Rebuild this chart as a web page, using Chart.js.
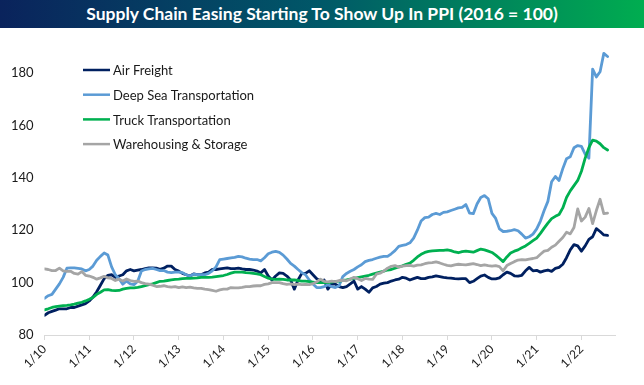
<!DOCTYPE html>
<html>
<head>
<meta charset="utf-8">
<script src="https://cdn.jsdelivr.net/npm/chart.js@4.4.0/dist/chart.umd.min.js"></script>
<style>
  body { margin: 0; background: #fff; }
  #title {
    position: absolute; left: 0; top: 0; width: 644px; height: 28px;
    background: linear-gradient(90deg, #0a235c 0%, #005868 50%, #00ad50 100%);
    color: #fff; font-family: Lato, sans-serif; font-weight: bold; font-size: 18px;
    line-height: 28px; text-align: center; white-space: nowrap;
  }
  #wrap { position: absolute; left: 0; top: 28px; width: 644px; height: 357px; }
</style>
</head>
<body>
<div id="title">Supply Chain Easing Starting To Show Up In PPI (2016 = 100)</div>
<div id="wrap"><canvas id="ppiChart"></canvas></div>
<script>
// monthly, Jan 2010 .. Aug 2022
const tickLabels = ["1/10", "1/11", "1/12", "1/13", "1/14", "1/15", "1/16",
  "1/17", "1/18", "1/19", "1/20", "1/21", "1/22"];

const seriesNames = ["Air Freight", "Deep Sea Transportation",
  "Truck Transportation", "Warehousing & Storage"];

const airFreight = [
  87.5, 88.5, 89, 89.5, 90, 90, 90, 90.5, 90.5, 91, 91.5, 92,
  93, 94.5, 96.5, 99, 101.5, 102.8, 103, 102, 102.5, 103, 104.5, 105,
  104.5, 104.8, 105, 105.3, 105.6, 105.6, 105.5, 105.1, 105.5, 106.3, 106.3, 105,
  104.4, 103.5, 103, 102.5, 103.3, 103, 103, 103.7, 104, 105, 105, 105.2,
  105.4, 105.6, 105.3, 105.3, 105.5, 105.2, 105, 105, 104.8, 104.4, 103.7, 105,
  102.5, 101, 102.5, 103.7, 103.5, 102.5, 101, 97.5, 101, 103.5, 103.5, 104.5,
  103, 101.5, 100.6, 101, 97.5, 99.5, 99.4, 98.5, 98.1, 98.5, 99.5, 100.6,
  97.5, 98.5, 97.5, 96.3, 98, 98.5, 99.4, 99.8, 100, 100.6, 101, 101.3,
  102, 101.7, 101, 101.5, 102, 101.5, 101.5, 102, 102.2, 102.6, 102.3, 102,
  101.8, 101.7, 101.5, 101.4, 101.5, 101.5, 100, 100.5, 101.5, 102.5, 102.9, 102,
  101.4, 101.4, 101.8, 103, 104, 103.5, 102.6, 102.5, 102.8, 104.5, 105.8, 104.5,
  104.7, 104, 104.5, 104.8, 104.3, 105.4, 105.8, 107, 109.5, 112.5, 114.5, 114,
  112, 114, 116.5, 117.5, 120.6, 119.5, 118.2, 118
];

const deepSea = [
  94, 95, 95.5, 97.5, 99.5, 102, 105.5, 105.6, 105.6, 105.4, 105.2, 104.5,
  105, 106.3, 108.5, 110, 111.3, 110.5, 106, 103, 101.5, 99.4, 100.6, 99.5,
  99.2, 100.5, 104.4, 105, 105.2, 105.4, 105, 104.6, 104.6, 104, 103.8, 104,
  104, 103.8, 103, 102.5, 103.2, 103, 103, 103, 103.5, 104.5, 106, 108.8,
  109, 109.2, 109.4, 109.6, 110, 109.8, 109.3, 109, 108.8, 108.8, 108.3, 109.5,
  111, 111.6, 111.9, 111.5, 110.5, 109, 107.3, 106.3, 105, 103.8, 103, 101,
  99.5, 98.1, 98.1, 98.5, 99.2, 98.5, 98.1, 98.8, 102.3, 103.5, 104.3, 105,
  106, 106.8, 108, 108.5, 108.8, 109.3, 109.7, 110, 110, 111, 112.2, 113.8,
  114.2, 114.5, 115.2, 117, 120, 123.5, 124.8, 125, 126, 126.4, 126, 126.8,
  127, 127.5, 128, 128.5, 128.7, 129.8, 126.5, 126.3, 130, 132.5, 133.2, 132,
  126.4, 124.5, 120.5, 119.5, 119.6, 119.8, 120.2, 119.8, 118.5, 117, 117.5, 118.5,
  120.5, 123.5, 127.5, 131, 138.5, 140.5, 139, 143.5, 147.3, 148, 151.5, 152.3,
  152, 149, 147.5, 181.5, 178.5, 180.5, 187.5, 186.3
];

const truck = [
  89.6, 90, 90.5, 90.8, 91, 91.2, 91.3, 91.5, 91.8, 92.2, 92.5, 93,
  93.6, 94.3, 95.5, 96.3, 97.2, 97.3, 97, 96.9, 97, 97.5, 97.8, 98,
  98, 98.2, 98.5, 98.8, 99.2, 99.5, 100, 100.5, 100.6, 100.8, 101, 101.2,
  101.3, 101.5, 101.6, 101.6, 101.7, 101.8, 102, 102, 102, 102.1, 102.3, 102.5,
  102.7, 103.1, 103.6, 104, 104, 104, 103.8, 103.7, 103.5, 103.3, 103, 102.3,
  101.7, 101.3, 101.2, 101.3, 101.2, 101, 101, 101, 100.8, 100.6, 100.6, 100.4,
  100.2, 100, 100, 100, 100, 100.2, 100.5, 100.6, 100.8, 101, 101.3, 101.6,
  101.9, 102.2, 102.5, 102.8, 103.2, 103.6, 104, 104.4, 104.8, 105, 105.5, 106,
  106.4, 107, 107.4, 108.5, 109.8, 110.8, 111.5, 111.9, 112.1, 112.2, 112.3, 112.3,
  112.5, 112.2, 111.7, 111.4, 111.8, 112, 111.8, 111.6, 112.2, 112.8, 112.5, 112,
  111.5, 110.5, 109.3, 108, 109.8, 111.3, 112, 112.5, 113.3, 114, 115, 116,
  117, 118.8, 120.8, 122.7, 124.4, 125.3, 126, 128.5, 132.5, 135, 137, 139,
  142.5, 147.5, 151.5, 154.4, 154, 153, 151.5, 150.6
];

const warehousing = [
  105.2, 105, 104.6, 104.6, 105.5, 104.5, 104.3, 104.3, 103.5, 103.2, 104.2, 102.8,
  102.5, 102, 101.3, 101.8, 102.4, 101.8, 101.6, 100.8, 101.3, 100.6, 101.4, 100.8,
  100.5, 100.6, 100, 99.6, 99.4, 99, 98.5, 98.6, 98.8, 98.5, 98.3, 98.5,
  98.1, 98.4, 98.1, 98.3, 98, 97.8, 97.8, 97.5, 97.3, 97, 96.7, 97.2,
  97.5, 97.5, 98.1, 98, 98, 98.2, 98.5, 98.5, 98.7, 98.8, 98.8, 99.3,
  99.5, 100, 100, 100, 99.6, 99.3, 99.5, 99.2, 99.4, 99.2, 99.3, 99.2,
  99.6, 100.3, 101.3, 100.5, 100.3, 100.6, 100.4, 100.8, 100.9, 100.7, 101.3, 102,
  101.5, 100.8, 101.6, 101.3, 101.2, 103.2, 103.6, 104.4, 105.5, 106.2, 106.5, 105.9,
  106.3, 106.5, 106.6, 106.3, 106.7, 106.8, 107.2, 107.5, 107.6, 107.9, 107.5, 107,
  106.6, 106.4, 106.8, 107, 106.9, 106.8, 107, 107.2, 106.9, 106.5, 106.8, 106.5,
  106.3, 106.5, 106.1, 104.5, 106.5, 107.3, 108, 108.6, 108.8, 108.7, 109, 109.2,
  109.5, 110.8, 112, 112.3, 113.5, 114.3, 115.8, 117.2, 119.2, 118.6, 121, 128.1,
  123.5, 125, 128.3, 122.5, 127.5, 131.8, 126.3, 126.5
];

const colors = ["#002060", "#5b9bd5", "#00b050", "#a5a5a5"];
const allSeries = [airFreight, deepSea, truck, warehousing];

// fit title text to the width it has in the original
(function () {
  const el = document.getElementById("title");
  const c = document.createElement("canvas").getContext("2d");
  c.font = "bold 18px Lato";
  const w = c.measureText(el.textContent).width;
  el.style.fontSize = (18 * 473 / w).toFixed(2) + "px";
})();

const insideLegend = {
  id: "insideLegend",
  afterDatasetsDraw(chart) {
    const ctx = chart.ctx;
    ctx.save();
    ctx.font = "13px Lato";
    ctx.textBaseline = "middle";
    chart.data.datasets.forEach((ds, i) => {
      const y = 42 + i * 24.7;
      ctx.strokeStyle = ds.borderColor;
      ctx.lineWidth = 2.5;
      ctx.beginPath();
      ctx.moveTo(83, y);
      ctx.lineTo(110, y);
      ctx.stroke();
      ctx.fillStyle = "#1a1a1a";
      ctx.fillText(ds.label, 113, y + 1);
    });
    ctx.restore();
  },
};

Chart.defaults.font.family = "Lato";

new Chart(document.getElementById("ppiChart"), {
  type: "line",
  data: {
    datasets: allSeries.map((vals, i) => ({
      label: seriesNames[i],
      data: vals.map((v, m) => ({ x: m, y: v })),
      borderColor: colors[i],
      borderWidth: 2.8,
      pointRadius: 0,
      tension: 0,
      borderCapStyle: "round",
      borderJoinStyle: "round",
      order: 3 - i,
    })),
  },
  options: {
    responsive: true,
    maintainAspectRatio: false,
    animation: false,
    devicePixelRatio: 1,
    layout: { padding: { top: 14, right: 29, left: 0, bottom: 0 } },
    scales: {
      x: {
        type: "linear",
        min: 0,
        max: 153,
        afterFit: (s) => { s.height = 50; },
        afterBuildTicks: (s) => {
          s.ticks = s.ticks.filter((t) => t.value % 12 === 0);
        },
        border: { display: true, color: "#d9d9d9", width: 1 },
        grid: { display: true, drawOnChartArea: false, drawTicks: true, tickLength: 5, color: "#d9d9d9" },
        ticks: {
          stepSize: 12,
          autoSkip: false,
          maxRotation: 45,
          minRotation: 45,
          padding: 2,
          color: "#1a1a1a",
          font: { size: 12 },
          callback: (v) => tickLabels[v / 12],
        },
      },
      y: {
        min: 80,
        max: 190,
        afterFit: (s) => { s.width = 44.5; },
        afterBuildTicks: (s) => {
          s.ticks = s.ticks.filter((t) => t.value <= 180 && t.value % 20 === 0);
        },
        border: { display: false },
        grid: { display: false, drawTicks: false },
        ticks: {
          stepSize: 20,
          padding: 11,
          color: "#1a1a1a",
          font: { size: 13 },
        },
      },
    },
    plugins: {
      legend: { display: false },
      tooltip: { enabled: false },
    },
  },
  plugins: [insideLegend],
});
</script>
</body>
</html>
